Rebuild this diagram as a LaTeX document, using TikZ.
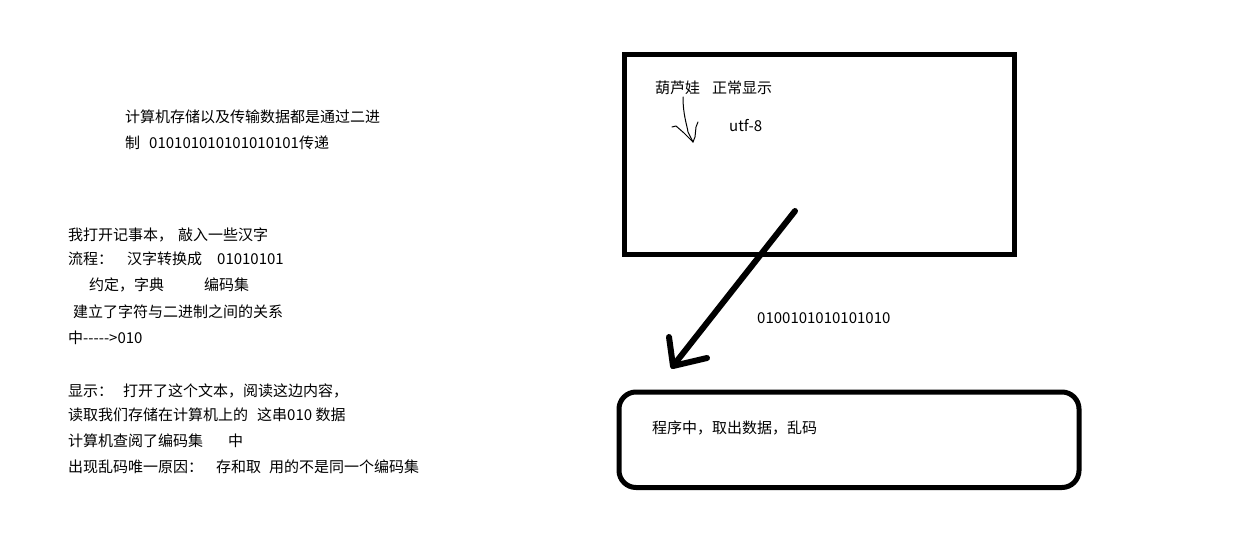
\documentclass[tikz,border=0pt]{standalone}
\usepackage{fontspec}
\setmainfont[Ligatures=NoCommon]{Noto Sans CJK SC}
\begin{document}
\begin{tikzpicture}[x=1pt,y=-1pt,
  txt/.style={anchor=west,inner sep=0pt,text height=0.88em,text depth=0.12em,font=\fontsize{15}{18}\selectfont,yshift=-2pt},
  box/.style={draw,line width=5pt},
  thin/.style={draw,line width=1pt,line cap=round,line join=round}]
\useasboundingbox[fill=white] (0,0) rectangle (1236,540);
% left texts
\node[txt] (t1) at (125,117) {计算机存储以及传输数据都是通过二进};
\node[txt] (t2) at (125,143) {制\hspace{9pt}010101010101010101传递};
\node[txt] (l1) at (68,235) {我打开记事本，\hspace{5pt}敲入一些汉字};
\node[txt] (l2) at (68,259) {流程：\hspace{14pt}汉字转换成\hspace{15pt}01010101};
\node[txt] (l3) at (89,285) {约定，字典\hspace{40pt}编码集};
\node[txt] (l4) at (73,312) {建立了字符与二进制之间的关系};
\node[txt] (l5) at (68,338) {中-{}-{}-{}-{}-\textgreater010};
\node[txt] (l6) at (68,391) {显示：\hspace{10pt}打开了这个文本，阅读这边内容，};
\node[txt] (l7) at (68,415) {读取我们存储在计算机上的\hspace{9pt}这串010 数据};
\node[txt] (l8) at (68,441) {计算机查阅了编码集\hspace{25pt}中};
\node[txt] (l9) at (68,467) {出现乱码唯一原因：\hspace{13pt}存和取\hspace{8pt}用的不是同一个编码集};
% top box
\draw[box] (624.5,54.5) rectangle (1014.5,254.5);
\node[txt] (h1) at (655,88) {葫芦娃\hspace{12pt}正常显示};
\node[txt] (u8) at (729,126) {utf-8};
\coordinate (s0) at (683,97);
\coordinate (tip) at (693,142);
\draw[thin] (s0) .. controls (683,115) and (687,125) .. (688,132) -- (tip);
\draw[thin] (672,127) -- (676,126) -- (684,133) -- (tip);
\draw[thin] (698,122) -- (696,127) -- (695,137) -- (tip);
% bottom box
\draw[box,rounded corners=17pt] (619,392) rectangle (1079,487.5);
\node[txt] (p1) at (652,428) {程序中，取出数据，乱码};
\node[txt] (bits) at (757,318) {0100101010101010};
% big arrow
\coordinate (a0) at (795,211);
\coordinate (a1) at (673,366);
\draw[line width=6pt,line cap=round,line join=round] (a0) -- (a1);
\draw[line width=6pt,line cap=round,line join=round] (669,337) -- (a1) -- (707,358);
\end{tikzpicture}
\end{document}
